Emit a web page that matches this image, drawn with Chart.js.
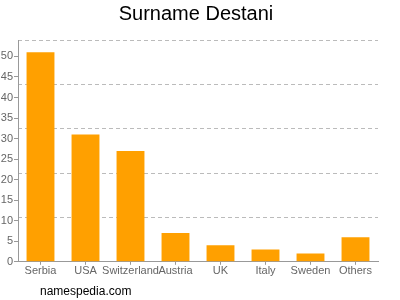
<!DOCTYPE html>
<html>
<head>
<meta charset="utf-8">
<script src="https://cdn.jsdelivr.net/npm/chart.js@4/dist/chart.umd.min.js"></script>
<style>
  html, body { margin: 0; padding: 0; background: #fff; }
  #wrap { width: 400px; height: 300px; position: relative; }
</style>
</head>
<body>
<div id="wrap"><canvas id="chart" width="400" height="300"></canvas></div>
<script>
// chart data
const countries = ['Serbia', 'USA', 'Switzerland', 'Austria', 'UK', 'Italy', 'Sweden', 'Others'];
const counts = [51, 31, 27, 7, 4, 3, 2, 6];
const yTicks = [0, 5, 10, 15, 20, 25, 30, 35, 40, 45, 50];
const gridTicks = [10.8, 21.6, 32.4, 43.2, 54];
const yMax = 54;

const font = "'Liberation Sans', Arial, sans-serif";

// draws the site name under the chart
const footer = {
    id: 'footer',
    afterDraw(chart) {
        const ctx = chart.ctx;
        ctx.save();
        ctx.font = '12px ' + font;
        ctx.fillStyle = '#000';
        ctx.textBaseline = 'middle';
        ctx.fillText('namespedia.com', 40, 292);
        ctx.restore();
    }
};

new Chart(document.getElementById('chart'), {
    type: 'bar',
    data: {
        labels: countries,
        datasets: [{ data: counts, backgroundColor: '#ffa000', barPercentage: 0.62, categoryPercentage: 1 }]
    },
    options: {
        responsive: false,
        animation: false,
        layout: { padding: { left: 0, right: 8, top: 0, bottom: 22 } },
        plugins: {
            legend: { display: false },
            tooltip: { enabled: false },
            title: {
                display: true,
                text: 'Surname Destani',
                color: '#000',
                font: { family: font, size: 20, weight: 'normal' },
                padding: { top: 2, bottom: 14 }
            }
        },
        scales: {
            x: {
                grid: { drawOnChartArea: false, offset: false, tickLength: 3, color: '#999' },
                border: { color: '#999' },
                ticks: { color: '#666', padding: 0, maxRotation: 0, autoSkip: false, font: { family: font, size: 11 } }
            },
            y: {
                min: 0, max: yMax,
                afterBuildTicks: s => { s.ticks = yTicks.map(v => ({ value: v })); },
                afterFit: s => { s.width = 18; },
                grid: { drawOnChartArea: false, tickLength: 4, color: '#999' },
                border: { color: '#999' },
                ticks: { color: '#666', padding: 1, font: { family: font, size: 11 } }
            },
            yGrid: {
                position: 'right',
                min: 0, max: yMax,
                afterBuildTicks: s => { s.ticks = gridTicks.map(v => ({ value: v })); },
                afterFit: s => { s.width = 14; },
                grid: { drawTicks: false, color: '#bbb' },
                border: { display: false, dash: [4, 3] },
                ticks: { display: false }
            }
        }
    },
    plugins: [footer]
});
</script>
</body>
</html>
